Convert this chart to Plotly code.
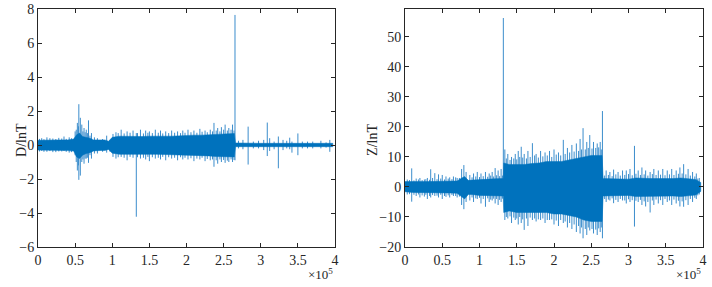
import plotly.graph_objects as go

# ---------------- data (x in units of 1e5 samples) ----------------
# D component: dense core envelope
d_core_x = [0, 0.1, 0.2, 0.3, 0.4, 0.48, 0.52, 0.56, 0.6, 0.65, 0.7, 0.75, 0.8, 0.85, 0.9, 0.95,
            1.0, 1.1, 1.2, 1.3, 1.4, 1.5, 1.6, 1.7, 1.8, 1.9, 2.0, 2.1, 2.2, 2.3, 2.4, 2.5, 2.6, 2.645,
            2.66, 2.8, 3.0, 3.2, 3.4, 3.6, 3.8, 3.97]
d_core_hi = [0.28, 0.3, 0.28, 0.3, 0.3, 0.35, 0.6, 0.7, 0.5, 0.45, 0.4, 0.3, 0.3, 0.28, 0.3, 0.22,
             0.45, 0.52, 0.5, 0.52, 0.5, 0.52, 0.5, 0.52, 0.52, 0.55, 0.58, 0.58, 0.58, 0.6, 0.65, 0.65, 0.68, 0.68,
             0.12, 0.1, 0.1, 0.1, 0.1, 0.1, 0.1, 0.1]
d_core_lo = [-0.3, -0.32, -0.32, -0.32, -0.33, -0.36, -0.7, -0.8, -0.6, -0.5, -0.45, -0.35, -0.32, -0.32, -0.32, -0.26,
             -0.48, -0.55, -0.55, -0.55, -0.55, -0.56, -0.55, -0.56, -0.56, -0.58, -0.6, -0.62, -0.62, -0.64, -0.68, -0.68, -0.7, -0.7,
             -0.1, -0.1, -0.1, -0.1, -0.1, -0.1, -0.1, -0.1]
# D component: individual excursions (position, max, min)
d_spk_x = [0.05, 0.12, 0.2, 0.28, 0.35, 0.42, 0.5, 0.53, 0.55, 0.57, 0.59, 0.62, 0.65, 0.68, 0.72,
           0.8, 0.87, 0.925, 0.97, 1.05, 1.12, 1.2, 1.28, 1.324, 1.38, 1.45, 1.5, 1.58, 1.65, 1.72,
           1.8, 1.88, 1.95, 2.02, 2.1, 2.18, 2.25, 2.32, 2.37, 2.42, 2.47, 2.52, 2.57, 2.62, 2.653,
           2.7, 2.76, 2.83, 2.9, 2.97, 3.04, 3.088, 3.12, 3.18, 3.237, 3.3, 3.35, 3.39, 3.42, 3.5,
           3.56, 3.63, 3.7, 3.81, 3.88, 3.93,
           0.02, 0.08, 0.16, 0.24, 0.32, 0.38, 0.45, 0.515, 0.545, 0.605, 0.635, 0.665, 0.7, 0.76,
           1.01, 1.08, 1.16, 1.24, 1.34, 1.42, 1.48, 1.54, 1.62, 1.68, 1.76, 1.84, 1.92, 1.98,
           2.06, 2.14, 2.21, 2.28, 2.35, 2.4, 2.45, 2.5, 2.55, 2.6, 2.64]
d_spk_hi = [0.4, 0.45, 0.38, 0.42, 0.5, 0.45, 0.8, 1.3, 2.4, 1.6, 1.2, 1.0, 0.9, 1.45, 0.7,
            0.4, 0.35, 0.55, 0.3, 0.75, 0.9, 0.8, 0.85, 0.7, 0.9, 0.85, 0.8, 0.9, 0.85, 0.8,
            0.85, 0.8, 0.85, 0.9, 0.85, 0.95, 0.85, 0.9, 1.3, 1.0, 1.05, 1.2, 1.0, 1.2, 7.65,
            0.25, 0.3, 1.08, 0.2, 0.25, 0.3, 1.32, 0.4, 0.2, 0.5, 0.3, 0.25, 0.43, 0.2, 0.68,
            0.2, 0.2, 0.2, 0.25, 0.15, 0.3,
            0.36, 0.34, 0.4, 0.35, 0.38, 0.36, 0.4, 0.9, 1.1, 0.8, 0.75, 0.7, 0.55, 0.45,
            0.65, 0.7, 0.68, 0.72, 0.7, 0.68, 0.72, 0.7, 0.72, 0.68, 0.7, 0.72, 0.7, 0.72,
            0.75, 0.72, 0.78, 0.75, 0.8, 0.85, 0.8, 0.9, 0.85, 0.9, 0.85]
d_spk_lo = [-0.35, -0.4, -0.42, -0.38, -0.35, -0.45, -0.6, -1.5, -2.05, -1.8, -1.0, -1.1, -0.8, -1.05, -0.8,
            -0.5, -0.4, -0.45, -0.4, -0.8, -0.7, -0.9, -0.75, -4.22, -0.8, -0.85, -0.95, -0.8, -0.85, -0.9,
            -0.8, -0.9, -0.85, -0.85, -0.95, -0.85, -0.95, -0.9, -1.28, -1.1, -1.0, -1.05, -1.0, -1.0, -0.9,
            -0.2, -0.25, -1.15, -0.2, -0.2, -0.3, -0.65, -0.35, -0.25, -1.37, -0.3, -0.2, -0.25, -0.45, -0.6,
            -0.2, -0.2, -0.2, -0.2, -0.15, -0.4,
            -0.38, -0.4, -0.36, -0.42, -0.38, -0.4, -0.42, -1.0, -1.2, -0.85, -0.8, -0.75, -0.6, -0.5,
            -0.7, -0.72, -0.75, -0.7, -0.72, -0.75, -0.7, -0.72, -0.75, -0.7, -0.72, -0.75, -0.72, -0.75,
            -0.78, -0.8, -0.75, -0.82, -0.85, -0.9, -0.85, -0.88, -0.92, -0.85, -0.88]

# Z component: dense core envelope
z_core_x = [0, 0.1, 0.2, 0.3, 0.4, 0.5, 0.6, 0.7, 0.75, 0.8, 0.85, 0.9, 1.0, 1.1, 1.2, 1.3, 1.318,
            1.325, 1.4, 1.5, 1.6, 1.7, 1.8, 1.9, 2.0, 2.1, 2.2, 2.3, 2.4, 2.5, 2.6, 2.645,
            2.66, 2.8, 3.0, 3.1, 3.2, 3.3, 3.4, 3.5, 3.6, 3.7, 3.8, 3.9, 3.97]
z_core_hi = [1.8, 1.7, 1.8, 1.8, 1.8, 1.8, 1.9, 2.0, 2.8, 3.5, 2.2, 2.3, 2.5, 2.6, 2.7, 2.8, 2.8,
             8.0, 7.5, 7.5, 7.5, 7.8, 8.0, 8.5, 8.5, 8.5, 9.0, 9.5, 10.0, 10.5, 10.5, 10.5,
             2.8, 2.8, 2.6, 3.0, 2.8, 2.8, 2.8, 2.7, 2.8, 3.0, 2.8, 2.5, 1.5]
z_core_lo = [-1.6, -1.8, -1.8, -1.9, -1.9, -2.0, -2.0, -2.1, -3.0, -4.0, -2.5, -2.5, -2.8, -2.8, -3.0, -3.0, -3.0,
             -8.5, -8.0, -8.5, -8.5, -8.5, -8.5, -8.5, -9.0, -9.0, -9.5, -10.0, -11.0, -11.5, -11.5, -11.5,
             -3.0, -3.0, -2.8, -3.2, -3.0, -3.2, -3.0, -3.0, -3.0, -3.2, -3.0, -2.7, -1.5]
# Z component: individual excursions (position, max, min)
z_spk_x = [0.03, 0.09, 0.15, 0.2, 0.26, 0.3, 0.345, 0.4, 0.45, 0.5, 0.55, 0.6, 0.65, 0.7, 0.76, 0.79,
           0.82, 0.87, 0.92, 0.97, 1.02, 1.08, 1.13, 1.17, 1.21, 1.25, 1.29, 1.32,
           1.34, 1.38, 1.43, 1.48, 1.52, 1.56, 1.6, 1.65, 1.71, 1.76, 1.82, 1.88, 1.94, 2.0, 2.06,
           2.125, 2.18, 2.24, 2.3, 2.35, 2.39, 2.44, 2.48, 2.53, 2.58, 2.62, 2.65,
           2.7, 2.75, 2.8, 2.86, 2.92, 2.97, 3.02, 3.08, 3.13, 3.18, 3.23, 3.29, 3.34, 3.4, 3.46,
           3.52, 3.58, 3.64, 3.69, 3.74, 3.8, 3.86, 3.91, 3.95,
           0.06, 0.12, 0.18, 0.23, 0.28, 0.33, 0.37, 0.43, 0.48, 0.53, 0.58, 0.63, 0.68, 0.73,
           0.9, 0.95, 1.0, 1.05, 1.11, 1.15, 1.19, 1.23, 1.27, 1.31,
           1.36, 1.41, 1.46, 1.5, 1.54, 1.58, 1.63, 1.68, 1.74, 1.79, 1.85, 1.91, 1.97, 2.03, 2.09,
           2.15, 2.21, 2.27, 2.33, 2.37, 2.42, 2.46, 2.51, 2.56, 2.6, 2.635,
           2.68, 2.73, 2.78, 2.83, 2.89, 2.95, 3.0, 3.05, 3.1, 3.16, 3.21, 3.26, 3.32, 3.37, 3.43,
           3.49, 3.55, 3.61, 3.67, 3.72, 3.77, 3.83, 3.89, 3.93]
z_spk_hi = [2.5, 6.2, 2.8, 3.0, 2.5, 3.0, 5.9, 4.6, 4.2, 4.0, 3.5, 3.2, 3.5, 3.0, 6.0, 7.3,
            5.0, 4.0, 4.5, 5.0, 4.5, 5.0, 4.5, 5.0, 6.3, 5.5, 6.0, 56.3,
            12.5, 11.0, 10.0, 11.0, 12.0, 13.4, 11.0, 12.0, 14.6, 11.0, 12.0, 11.5, 12.0, 12.5, 11.5,
            15.7, 13.0, 14.0, 14.5, 16.0, 19.6, 15.0, 17.3, 15.0, 14.5, 15.0, 25.3,
            5.5, 5.0, 5.8, 5.0, 5.5, 5.5, 6.0, 13.7, 5.5, 6.5, 5.5, 5.0, 6.0, 5.5, 6.0,
            5.5, 6.0, 5.5, 6.5, 7.6, 6.0, 5.0, 4.5, 3.0,
            2.3, 2.2, 2.5, 2.3, 2.6, 2.4, 3.0, 2.6, 2.8, 2.5, 2.8, 2.6, 3.2, 3.0,
            3.2, 3.5, 3.3, 3.6, 3.4, 3.8, 3.5, 3.9, 3.6, 3.8,
            9.5, 9.0, 9.5, 9.2, 10.0, 9.8, 9.5, 10.0, 10.5, 9.8, 10.2, 10.5, 10.0, 10.8, 10.5,
            11.0, 11.5, 11.8, 12.0, 12.5, 12.5, 13.0, 12.8, 13.0, 13.2, 12.5,
            3.8, 4.0, 3.6, 4.2, 3.8, 4.0, 4.3, 3.9, 4.4, 4.0, 4.2, 3.8, 4.3, 4.0, 4.1,
            3.9, 4.2, 4.0, 4.4, 4.5, 4.2, 3.8, 3.5, 2.8]
z_spk_lo = [-2.5, -4.9, -3.0, -3.5, -3.2, -4.0, -3.5, -3.0, -3.5, -4.0, -3.3, -3.5, -3.0, -3.5, -6.0, -7.4,
            -5.0, -4.5, -5.0, -4.0, -5.5, -6.6, -5.0, -4.5, -5.5, -6.0, -5.0, -3.0,
            -11.0, -10.5, -12.0, -11.0, -12.5, -12.0, -14.3, -13.0, -11.0, -11.5, -11.0, -12.0, -11.0, -12.5, -13.0,
            -12.0, -13.5, -14.0, -15.0, -15.5, -17.1, -16.0, -14.5, -15.5, -16.0, -15.0, -17.1,
            -5.0, -4.5, -5.4, -5.0, -4.5, -5.5, -5.0, -13.2, -5.0, -6.0, -6.5, -8.5, -6.0, -5.5, -6.0,
            -5.0, -6.0, -5.5, -6.5, -6.6, -6.0, -5.0, -4.0, -2.5,
            -2.4, -2.6, -2.5, -2.8, -2.6, -3.0, -2.7, -2.9, -2.6, -3.0, -2.8, -2.7, -3.0, -3.2,
            -3.5, -3.8, -3.6, -4.0, -3.8, -4.2, -3.9, -4.0, -4.3, -3.9,
            -10.0, -9.8, -10.2, -10.5, -10.0, -10.8, -10.5, -10.2, -10.5, -10.8, -10.5, -11.0, -10.8, -11.2, -11.0,
            -11.5, -12.0, -12.5, -13.0, -13.5, -14.0, -13.5, -14.0, -14.2, -13.8, -13.5,
            -4.0, -4.2, -3.8, -4.3, -4.0, -4.5, -4.1, -4.4, -4.6, -4.3, -4.8, -5.0, -4.5, -4.2, -4.4,
            -4.0, -4.5, -4.2, -4.6, -4.8, -4.4, -4.0, -3.6, -2.8]

x_ticks = [0, 0.5, 1, 1.5, 2, 2.5, 3, 3.5, 4]
d_ticks = [-6, -4, -2, 0, 2, 4, 6, 8]
z_ticks = [-20, -10, 0, 10, 20, 30, 40, 50]

# ---------------- figure ----------------
BLUE = '#0072BD'
SPK = '#3b8dcc'
FONT = 'Liberation Serif'
AX = '#262626'

fig = go.Figure()


def add_signal(cx, chi, clo, sx, shi, slo, xa, ya):
    px, py = [], []
    for x, h, l in zip(sx, shi, slo):
        px += [x, x, None]
        py += [l, h, None]
    fig.add_trace(go.Scatter(x=px, y=py, mode='lines', line=dict(color=SPK, width=1),
                             xaxis=xa, yaxis=ya, hoverinfo='skip', showlegend=False))
    fig.add_trace(go.Scatter(x=list(cx) + list(cx)[::-1], y=list(chi) + list(clo)[::-1],
                             mode='lines', fill='toself', fillcolor=BLUE,
                             line=dict(color=BLUE, width=0.5),
                             xaxis=xa, yaxis=ya, hoverinfo='skip', showlegend=False))


add_signal(d_core_x, d_core_hi, d_core_lo, d_spk_x, d_spk_hi, d_spk_lo, 'x', 'y')
add_signal(z_core_x, z_core_hi, z_core_lo, z_spk_x, z_spk_hi, z_spk_lo, 'x2', 'y2')

axis_common = dict(showline=True, linecolor=AX, linewidth=1, mirror='ticks', ticks='inside',
                   ticklen=4, tickcolor=AX, tickwidth=1, showgrid=False, zeroline=False,
                   tickfont=dict(family=FONT, size=14, color=AX))

L_END = 297 / 665
R_START = 367 / 665

fig.update_layout(
    width=712, height=287,
    margin=dict(l=38, r=9, t=9, b=40, autoexpand=False),
    paper_bgcolor='white', plot_bgcolor='white',
    xaxis=dict(domain=[0, L_END], range=[0, 4], tickvals=x_ticks, anchor='y', **axis_common),
    yaxis=dict(domain=[0, 1], range=[-6, 8], tickvals=d_ticks, anchor='x', **axis_common),
    xaxis2=dict(domain=[R_START, 1], range=[0, 4], tickvals=x_ticks, anchor='y2', **axis_common),
    yaxis2=dict(domain=[0, 1], range=[-20, 59.3], tickvals=z_ticks, anchor='x2', **axis_common),
    annotations=[
        dict(text='D/lnT', xref='paper', yref='paper', x=(22 - 38) / 665, y=0.45, textangle=-90,
             xanchor='center', yanchor='middle',
             showarrow=False, font=dict(family=FONT, size=14, color=AX)),
        dict(text='Z/lnT', xref='paper', yref='paper', x=(373 - 38) / 665, y=0.45, textangle=-90,
             xanchor='center', yanchor='middle',
             showarrow=False, font=dict(family=FONT, size=14, color=AX)),
        dict(text='×10<sup>5</sup>', xref='paper', yref='paper', x=L_END, y=-0.113,
             xanchor='right', yanchor='middle', showarrow=False,
             font=dict(family=FONT, size=13, color=AX)),
        dict(text='×10<sup>5</sup>', xref='paper', yref='paper', x=1, y=-0.113,
             xanchor='right', yanchor='middle', showarrow=False,
             font=dict(family=FONT, size=13, color=AX)),
    ],
)

fig.write_html('out.html', config={'displayModeBar': False},
               post_script="document.body.style.margin='0px';document.body.style.padding='0px';")
